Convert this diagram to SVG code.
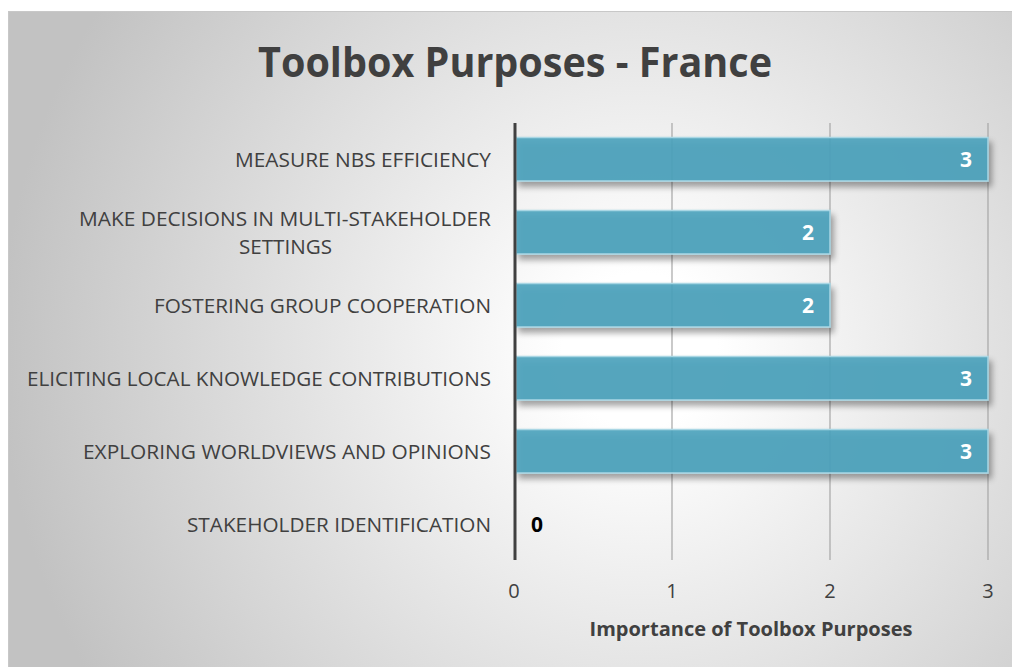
<svg xmlns="http://www.w3.org/2000/svg" width="1012" height="667" viewBox="0 0 1012 667">
<defs>
<radialGradient id="bg" gradientUnits="userSpaceOnUse" cx="640" cy="350" r="640">
<stop offset="0" stop-color="#ffffff"/>
<stop offset="0.12" stop-color="#ffffff"/>
<stop offset="1" stop-color="#c2c2c2"/>
</radialGradient>
<filter id="sh" x="-5%" y="-30%" width="110%" height="170%">
<feGaussianBlur in="SourceAlpha" stdDeviation="3"/>
<feOffset dx="3" dy="5" result="b"/>
<feComponentTransfer><feFuncA type="linear" slope="0.4"/></feComponentTransfer>
<feMerge><feMergeNode/><feMergeNode in="SourceGraphic"/></feMerge>
</filter>
<style>
.lbl{font-family:"Open Sans","Liberation Sans",sans-serif;font-size:20.5px;fill:#404040;text-anchor:end}
.lblc{font-family:"Open Sans","Liberation Sans",sans-serif;font-size:20.5px;fill:#404040;text-anchor:middle}
.tick{font-family:"Open Sans","Liberation Sans",sans-serif;font-size:20px;fill:#404040;text-anchor:middle}
.val{font-family:"Open Sans","Liberation Sans",sans-serif;font-size:21px;font-weight:bold;fill:#ffffff;text-anchor:middle}
.bar{fill:#4aa2bd;fill-opacity:0.9;stroke:#a9d6e4;stroke-width:1.5}
.grid{stroke:#a6a6a6;stroke-width:1.2}
</style>
</defs>
<rect x="8.5" y="11.5" width="1010" height="662" fill="url(#bg)" stroke="#c8c8c8" stroke-width="1"/>
<text x="515" y="77" font-family="'Open Sans','Liberation Sans',sans-serif" font-size="42" font-weight="bold" fill="#404040" text-anchor="middle" textLength="514" lengthAdjust="spacingAndGlyphs">Toolbox Purposes - France</text>
<g id="gridlines">
<line class="grid" x1="672" y1="123" x2="672" y2="560"/>
<line class="grid" x1="830" y1="123" x2="830" y2="560"/>
<line class="grid" x1="988" y1="123" x2="988" y2="560"/>
</g>
<g id="bars" filter="url(#sh)">
<rect class="bar" x="516" y="137.5" width="472" height="43.5"/>
<rect class="bar" x="516" y="210.5" width="314" height="43.5"/>
<rect class="bar" x="516" y="283.5" width="314" height="43.5"/>
<rect class="bar" x="516" y="356.5" width="472" height="43.5"/>
<rect class="bar" x="516" y="429.5" width="472" height="43.5"/>
</g>
<g id="axis">
<line x1="515" y1="123" x2="515" y2="560" stroke="#404040" stroke-width="3"/>
</g>
<g id="labels">
<text class="lbl" x="491" y="166.5" textLength="256" lengthAdjust="spacingAndGlyphs">MEASURE NBS EFFICIENCY</text>
<text class="lblc" x="285" y="225.5" textLength="412" lengthAdjust="spacingAndGlyphs">MAKE DECISIONS IN MULTI-STAKEHOLDER</text>
<text class="lblc" x="285.5" y="253.5" textLength="93" lengthAdjust="spacingAndGlyphs">SETTINGS</text>
<text class="lbl" x="491" y="312.5" textLength="337" lengthAdjust="spacingAndGlyphs">FOSTERING GROUP COOPERATION</text>
<text class="lbl" x="491" y="385.5" textLength="464" lengthAdjust="spacingAndGlyphs">ELICITING LOCAL KNOWLEDGE CONTRIBUTIONS</text>
<text class="lbl" x="491" y="458.5" textLength="408" lengthAdjust="spacingAndGlyphs">EXPLORING WORLDVIEWS AND OPINIONS</text>
<text class="lbl" x="491" y="531.5" textLength="304" lengthAdjust="spacingAndGlyphs">STAKEHOLDER IDENTIFICATION</text>
</g>
<g id="values">
<text class="val" x="966" y="167">3</text>
<text class="val" x="808" y="240">2</text>
<text class="val" x="808" y="313">2</text>
<text class="val" x="966" y="386">3</text>
<text class="val" x="966" y="459">3</text>
<text class="val" x="537" y="532" style="fill:#000000">0</text>
</g>
<g id="ticks">
<text class="tick" x="514" y="598">0</text>
<text class="tick" x="672" y="598">1</text>
<text class="tick" x="830" y="598">2</text>
<text class="tick" x="988" y="598">3</text>
</g>
<text x="751" y="636" font-family="'Open Sans','Liberation Sans',sans-serif" font-size="20" font-weight="bold" fill="#404040" text-anchor="middle" textLength="323" lengthAdjust="spacingAndGlyphs">Importance of Toolbox Purposes</text>
</svg>
